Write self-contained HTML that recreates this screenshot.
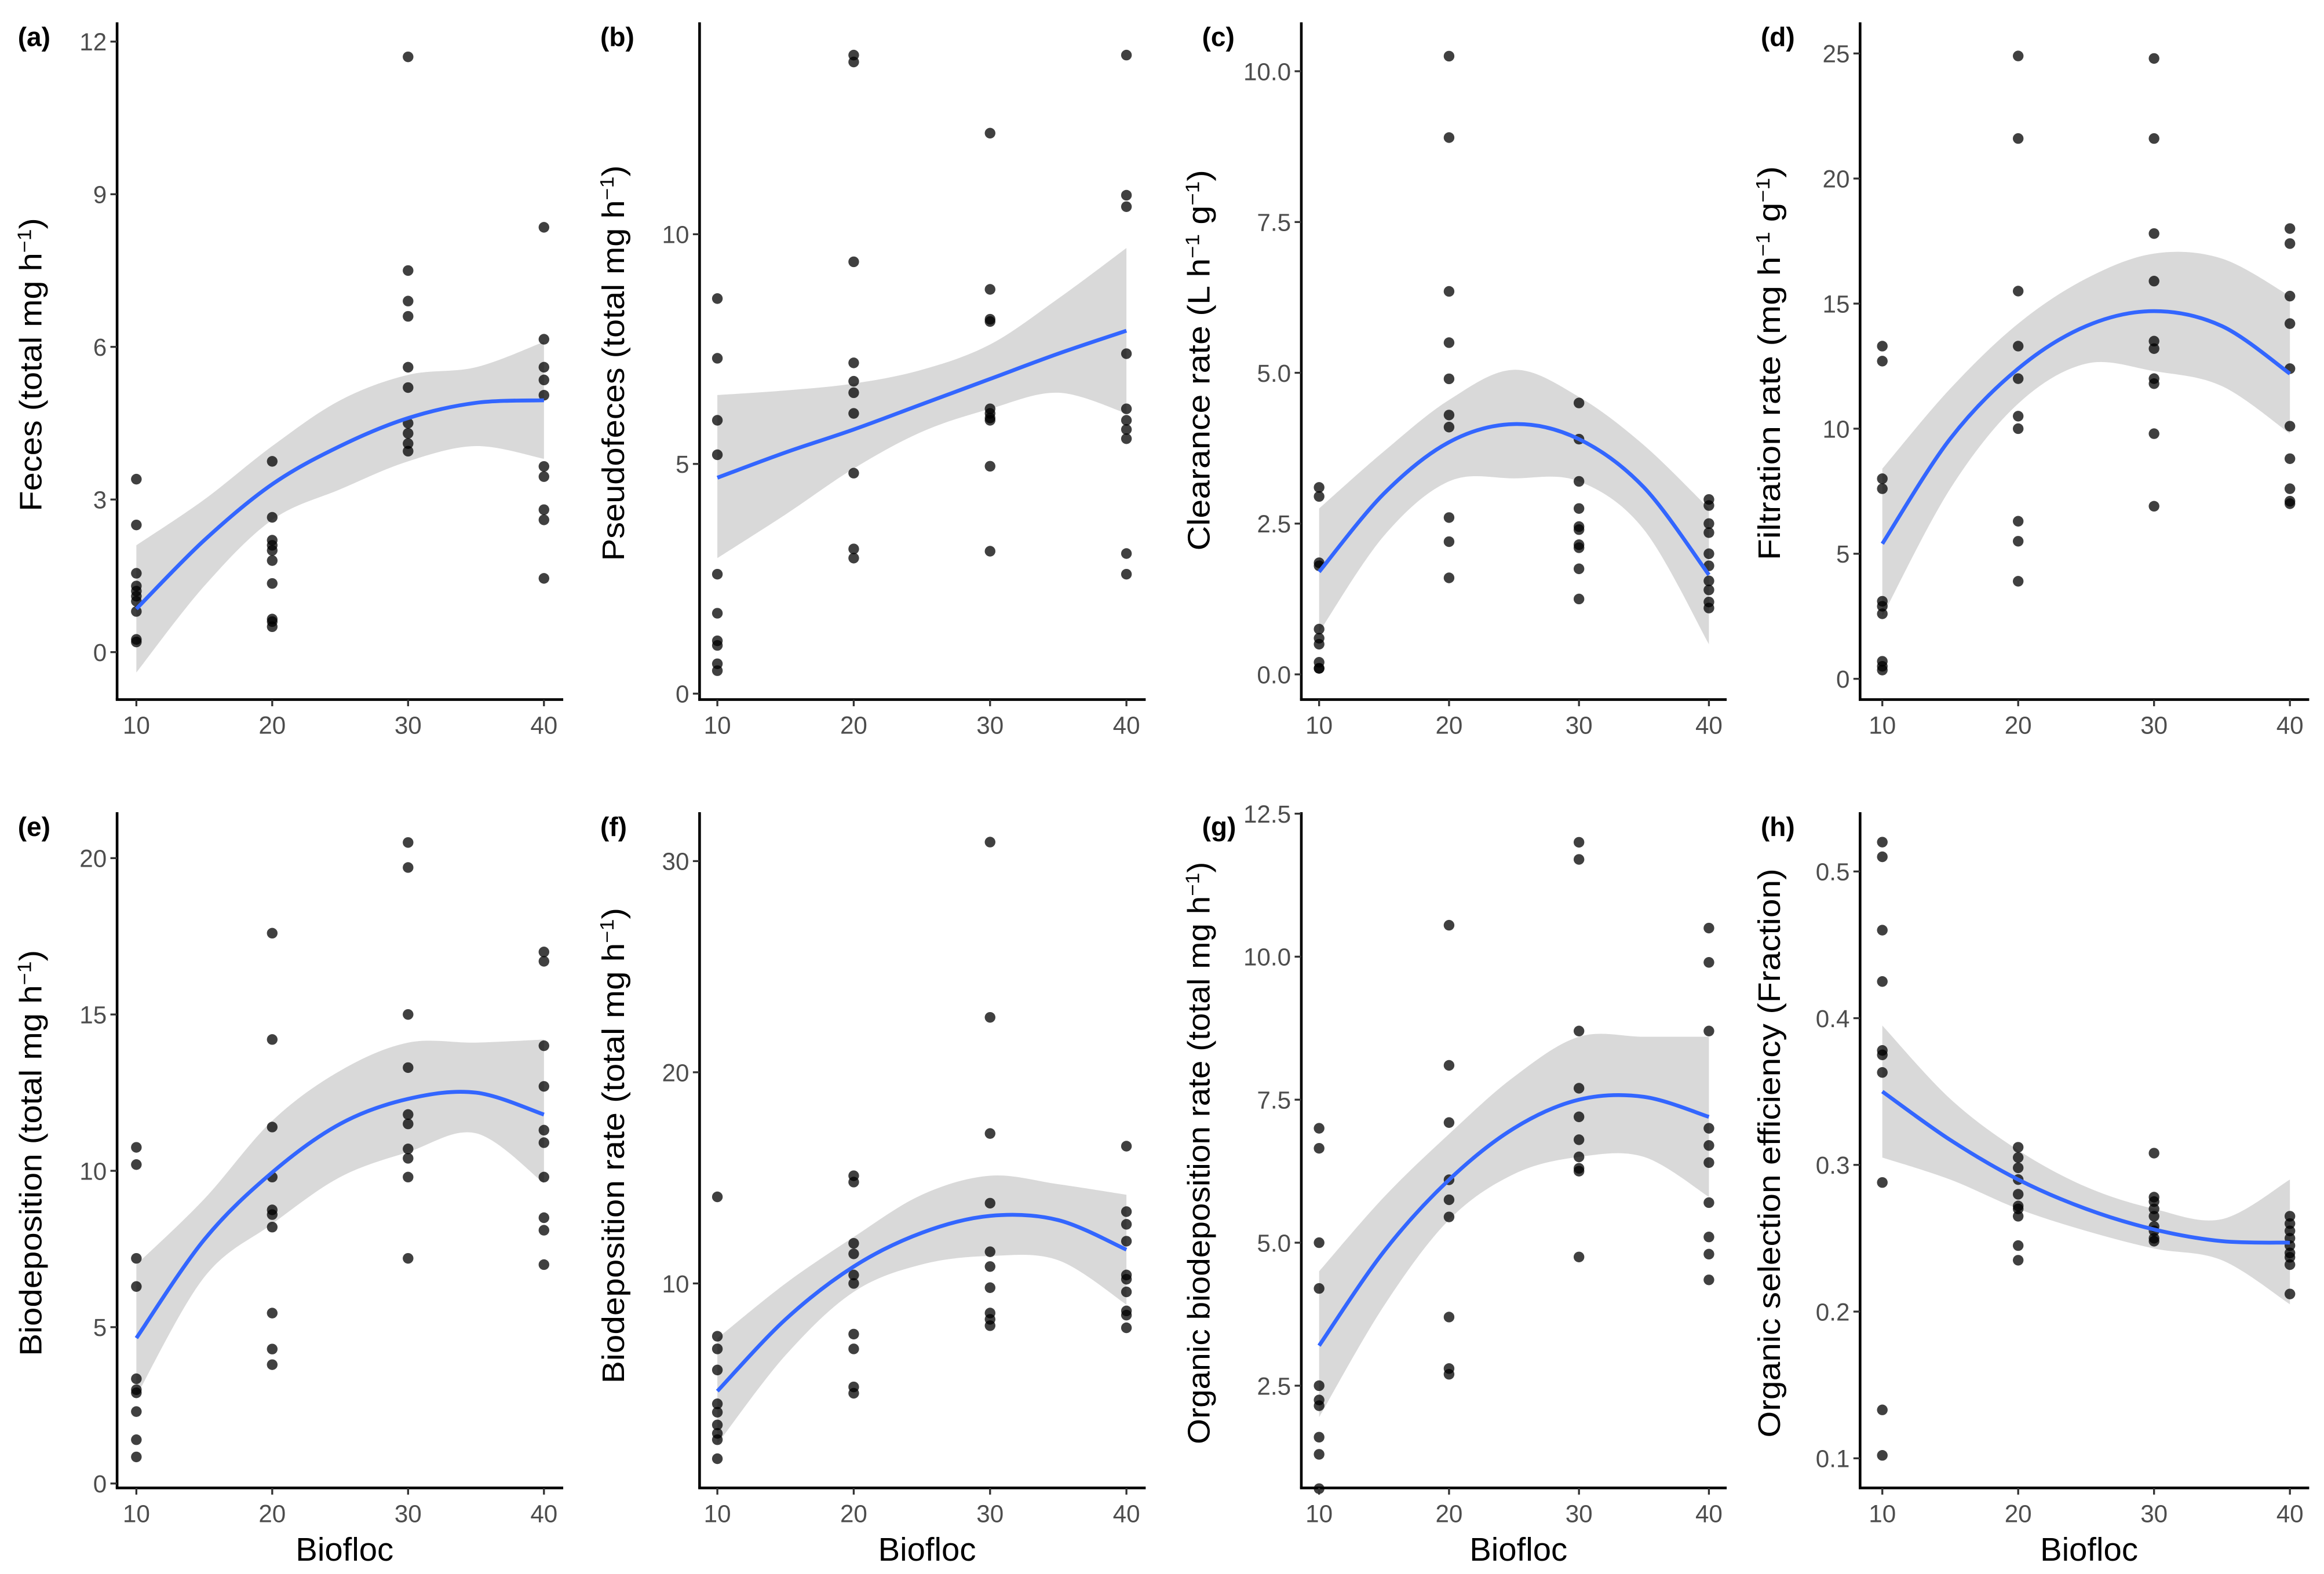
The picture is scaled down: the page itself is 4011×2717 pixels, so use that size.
<!DOCTYPE html>
<html><head><meta charset="utf-8"><style>
html,body{margin:0;padding:0;background:#fff}
svg{display:block}
text{font-family:"Liberation Sans",sans-serif}
</style></head><body>
<svg id="fig" width="4011" height="2717" viewBox="0 0 1568 1062" xmlns="http://www.w3.org/2000/svg"></svg>
<script>
// ---- data (x categories shared) ----
const xCats = [10, 20, 30, 40];
const fitX = [10, 15, 20, 25, 30, 35, 40];

const aPts = [[3.4,2.5,1.55,1.3,1.2,1.1,1.0,0.8,0.25,0.2],[3.75,2.65,2.2,2.1,2.0,1.8,1.35,0.65,0.6,0.5],[11.7,7.5,6.9,6.6,5.6,5.2,4.5,4.3,4.1,3.95],[8.35,6.15,5.6,5.35,5.05,3.65,3.45,2.8,2.6,1.45]];
const aFit = [0.85,2.2,3.3,4.05,4.6,4.9,4.95];
const aLo = [-0.4,1.3,2.6,3.2,3.75,4.05,3.8];
const aHi = [2.1,3.0,4.05,4.95,5.45,5.6,6.1];
const aTicks = [0,3,6,9,12];

const bPts = [[8.6,7.3,5.95,5.2,2.6,1.75,1.15,1.05,0.65,0.5],[13.9,13.75,9.4,7.2,6.8,6.55,6.1,4.8,3.15,2.95],[12.2,8.8,8.15,8.1,6.2,6.1,5.95,4.95,3.1,6.0],[13.9,10.85,10.6,7.4,6.2,5.95,5.75,5.55,3.05,2.6]];
const bFit = [4.7,5.25,5.75,6.3,6.85,7.4,7.9];
const bLo = [2.95,3.9,4.9,5.7,6.2,6.55,6.1];
const bHi = [6.5,6.6,6.75,7.05,7.6,8.6,9.7];
const bTicks = [0,5,10];

const cPts = [[3.1,2.95,1.85,1.8,0.75,0.6,0.5,0.2,0.1,0.1],[10.25,8.9,6.35,5.5,4.9,4.3,4.1,2.6,2.2,1.6],[4.5,3.9,3.2,2.75,2.45,2.4,2.15,2.1,1.75,1.25],[2.9,2.8,2.5,2.35,2.0,1.8,1.55,1.4,1.2,1.1]];
const cFit = [1.7,3.0,3.85,4.15,3.9,3.1,1.65];
const cLo = [0.7,2.3,3.2,3.25,3.2,2.4,0.5];
const cHi = [2.75,3.7,4.55,5.05,4.6,3.8,2.75];
const cTicks = [0,2.5,5,7.5,10];

const dPts = [[13.3,12.7,8.0,7.6,3.1,2.9,2.6,0.7,0.5,0.35],[24.9,21.6,15.5,13.3,12.0,10.5,10.0,6.3,5.5,3.9],[24.8,21.6,17.8,15.9,13.5,13.2,12.0,11.8,9.8,6.9],[18.0,17.4,15.3,14.2,12.4,10.1,8.8,7.6,7.1,7.0]];
const dFit = [5.4,9.6,12.4,14.1,14.7,14.1,12.2];
const dLo = [2.5,7.6,11.0,12.6,12.3,11.7,9.8];
const dHi = [8.4,11.6,14.2,16.0,17.0,16.8,15.3];
const dTicks = [0,5,10,15,20,25];

const ePts = [[10.75,10.2,7.2,6.3,3.35,3.0,2.9,2.3,1.4,0.85],[17.6,14.2,11.4,9.8,8.75,8.6,8.2,5.45,4.3,3.8],[20.5,19.7,15.0,13.3,11.8,11.5,10.7,10.4,9.8,7.2],[17.0,16.7,14.0,12.7,11.3,10.9,9.8,8.5,8.1,7.0]];
const eFit = [4.65,7.8,9.95,11.5,12.3,12.5,11.8];
const eLo = [2.8,6.6,8.3,9.8,10.6,11.2,9.6];
const eHi = [7.0,9.1,11.6,13.2,14.1,14.1,14.2];
const eTicks = [0,5,10,15,20];

const fPts = [[14.1,7.5,6.9,5.9,4.3,3.9,3.3,2.9,2.6,1.7],[15.1,14.8,11.9,11.4,10.4,10.0,7.6,6.9,5.1,4.8],[30.9,22.6,17.1,13.8,11.5,10.8,9.8,8.6,8.3,8.0],[16.5,13.4,12.8,12.0,10.4,10.2,9.6,8.7,8.5,7.9]];
const fFit = [4.9,8.3,10.8,12.4,13.2,13.0,11.6];
const fLo = [2.4,6.6,9.6,10.9,11.3,11.1,9.0];
const fHi = [7.4,10.0,12.2,14.2,15.1,14.7,14.2];
const fTicks = [10,20,30];

const gPts = [[7.0,6.65,5.0,4.2,2.5,2.25,2.15,1.6,1.3,0.7],[10.55,8.1,7.1,6.1,5.75,5.45,3.7,2.8,2.7],[12.0,11.7,8.7,7.7,7.2,6.8,6.5,6.3,6.25,4.75],[10.5,9.9,8.7,7.0,6.7,6.4,5.7,5.1,4.8,4.35]];
const gFit = [3.2,4.85,6.1,7.0,7.5,7.55,7.2];
const gLo = [1.95,3.9,5.4,6.2,6.5,6.5,5.8];
const gHi = [4.5,5.8,6.9,7.9,8.6,8.6,8.6];
const gTicks = [2.5,5,7.5,10,12.5];

const hPts = [[0.52,0.51,0.46,0.425,0.378,0.375,0.363,0.288,0.133,0.102],[0.312,0.305,0.298,0.29,0.28,0.272,0.27,0.265,0.245,0.235],[0.308,0.278,0.275,0.27,0.265,0.258,0.255,0.25,0.248],[0.265,0.26,0.255,0.25,0.245,0.24,0.237,0.232,0.212]];
const hFit = [0.35,0.317,0.29,0.27,0.256,0.248,0.247];
const hLo = [0.305,0.29,0.27,0.255,0.243,0.235,0.205];
const hHi = [0.395,0.345,0.31,0.285,0.27,0.263,0.29];
const hTicks = [0.1,0.2,0.3,0.4,0.5];

const NS = "http://www.w3.org/2000/svg";
const svg = document.getElementById('fig');
function mk(tag, attrs, parent){const e=document.createElementNS(NS,tag);for(const k in attrs)e.setAttribute(k,attrs[k]);(parent||svg).appendChild(e);return e;}
function smooth(p){let d=`M${p[0][0]},${p[0][1]}`;for(let i=0;i<p.length-1;i++){const p0=p[i-1]||p[i],p1=p[i],p2=p[i+1],p3=p[i+2]||p2;d+=` C${p1[0]+(p2[0]-p0[0])/6},${p1[1]+(p2[1]-p0[1])/6} ${p2[0]-(p3[0]-p1[0])/6},${p2[1]-(p3[1]-p1[1])/6} ${p2[0]},${p2[1]}`;}return d;}

const panels = [
 {id:'a',pts:aPts,fit:aFit,lo:aLo,hi:aHi,ticks:aTicks,dec:0,ax:79,x10:92,x40:367,xr:380,top:15,bot:472,v0:0,p0:440,v1:12,p1:28,title:['Feces (total mg h','−1',')'],tx:28,tl:198,tc:246},
 {id:'b',pts:bPts,fit:bFit,lo:bLo,hi:bHi,ticks:bTicks,dec:0,ax:472,x10:484,x40:760,xr:773,top:15,bot:472,v0:0,p0:468,v1:10,p1:158,title:['Pseudofeces (total mg h','−1',')'],tx:421,tl:267,tc:245},
 {id:'c',pts:cPts,fit:cFit,lo:cLo,hi:cHi,ticks:cTicks,dec:1,ax:878,x10:890,x40:1153,xr:1165,top:15,bot:472,v0:0,p0:455,v1:10,p1:48,title:['Clearance rate (L h','−1',' g','−1',')'],tx:816,tl:257,tc:243},
 {id:'d',pts:dPts,fit:dFit,lo:dLo,hi:dHi,ticks:dTicks,dec:0,ax:1255,x10:1270,x40:1545,xr:1558,top:15,bot:472,v0:0,p0:458,v1:25,p1:36,title:['Filtration rate (mg h','−1',' g','−1',')'],tx:1201,tl:266,tc:245},
 {id:'e',pts:ePts,fit:eFit,lo:eLo,hi:eHi,ticks:eTicks,dec:0,ax:79,x10:92,x40:367,xr:380,top:548,bot:1004,v0:0,p0:1001,v1:20,p1:579,title:['Biodeposition (total mg h','−1',')'],tx:28,tl:274,tc:778},
 {id:'f',pts:fPts,fit:fFit,lo:fLo,hi:fHi,ticks:fTicks,dec:0,ax:472,x10:484,x40:760,xr:773,top:548,bot:1004,v0:10,p0:866,v1:30,p1:581,title:['Biodeposition rate (total mg h','−1',')'],tx:421,tl:321,tc:773},
 {id:'g',pts:gPts,fit:gFit,lo:gLo,hi:gHi,ticks:gTicks,dec:1,ax:878,x10:890,x40:1153,xr:1165,top:548,bot:1004,v0:2.5,p0:935,v1:12.5,p1:549,title:['Organic biodeposition rate (total mg h','−1',')'],tx:816,tl:393,tc:778},
 {id:'h',pts:hPts,fit:hFit,lo:hLo,hi:hHi,ticks:hTicks,dec:1,ax:1255,x10:1270,x40:1545,xr:1558,top:548,bot:1004,v0:0.1,p0:984,v1:0.5,p1:588,title:['Organic selection efficiency (Fraction)'],tx:1201,tl:384,tc:778}
];

panels.forEach(P=>{
  const g = mk('g',{});
  
  
  const X = v => P.x10 + (v-10)/30*(P.x40-P.x10);
  const Y = v => P.p0 + (v-P.v0)/(P.v1-P.v0)*(P.p1-P.p0);
  const up = fitX.map((x,i)=>[X(x),Y(P.hi[i])]);
  const dn = fitX.map((x,i)=>[X(x),Y(P.lo[i])]).reverse();
  const bandD = smooth(up) + ' L' + smooth(dn).slice(1) + ' Z';
  const band = mk('path',{d:bandD,fill:'#d9d9d9',stroke:'none'},g);
  
  
  P.pts.forEach((col,ci)=>col.forEach(v=>{
    const c = mk('circle',{cx:X(xCats[ci]),cy:Y(v),r:3.6,fill:'#000','fill-opacity':0.75},g);
    
    
  }));
  const fl = mk('path',{d:smooth(fitX.map((x,i)=>[X(x),Y(P.fit[i])])),fill:'none',stroke:'#3366ff',"stroke-width":2.6},g);
  
  
  const ya = mk('line',{x1:P.ax,x2:P.ax,y1:P.top,y2:P.bot,stroke:'#000','stroke-width':1.8},g);
  
  
  const xa = mk('line',{x1:P.ax-0.9,x2:P.xr,y1:P.bot,y2:P.bot,stroke:'#000','stroke-width':1.8},g);
  
  
  P.ticks.forEach(t=>{
    mk('line',{x1:P.ax-4.5,x2:P.ax,y1:Y(t),y2:Y(t),stroke:'#333','stroke-width':1.3},g);
    const tl = mk('text',{x:P.ax-7,y:Y(t)+6,'text-anchor':'end','font-size':16.5,fill:'#4d4d4d'},g);
    tl.textContent = t.toFixed(P.dec);
    
    
  });
  xCats.forEach(c=>{
    mk('line',{x1:X(c),x2:X(c),y1:P.bot,y2:P.bot+4.5,stroke:'#333','stroke-width':1.3},g);
    const tl = mk('text',{x:X(c),y:P.bot+23,'text-anchor':'middle','font-size':16.5,fill:'#4d4d4d'},g);
    tl.textContent = c;
    
    
  });
  if (P.top > 100) {
    const xt = mk('text',{x:(P.ax+P.xr)/2+3,y:1053,'text-anchor':'middle','font-size':22,fill:'#000'},g);
    xt.textContent = 'Biofloc';
    
    
  }
  const yt = mk('text',{x:0,y:0,'text-anchor':'middle','font-size':21,fill:'#000',textLength:P.tl,lengthAdjust:'spacingAndGlyphs',transform:`translate(${P.tx},${P.tc}) rotate(-90)`},g);
  
  
  P.title.forEach((s,i)=>{
    const ts = document.createElementNS(NS,'tspan');
    ts.textContent = s;
    if (i%2===1){ ts.setAttribute('baseline-shift','super'); ts.setAttribute('font-size','13'); }
    yt.appendChild(ts);
  });
  const lab = mk('text',{x:P.ax-67,y:P.top+16,'font-size':18,'font-weight':'bold',fill:'#000'},g);
  lab.textContent = '('+P.id+')';
  
  
});
</script>
</body></html>
